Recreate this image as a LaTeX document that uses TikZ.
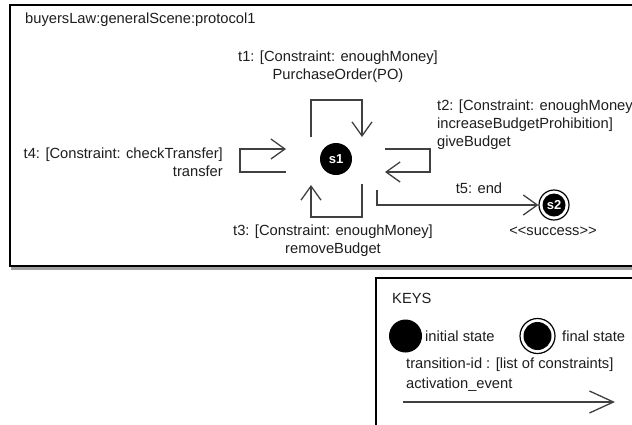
\documentclass[tikz,border=0pt]{standalone}
\usepackage{fontspec}
\setmainfont{Liberation Sans}
\usetikzlibrary{arrows.meta}
\definecolor{txt}{HTML}{1E1E1E}
\definecolor{lin}{HTML}{404040}
\begin{document}
\begin{tikzpicture}[x=1pt,y=-1pt,
  lbl/.style={inner sep=0pt, text=txt, font=\fontsize{14.7}{18}\selectfont},
  ln/.style={draw=lin, line width=1.3pt},
  arr/.style={ln, -{Straight Barb[length=14pt,width=20pt,line width=1.3pt]}},
  bigarr/.style={ln, -{Straight Barb[length=24pt,width=22pt,line width=1.3pt]}},
  statenode/.style={circle, fill=black, inner sep=0pt, text=white,
    font=\bfseries\fontsize{13}{13}\selectfont},
  ringnode/.style={circle, draw=black, line width=1.2pt, inner sep=0pt},
]
\useasboundingbox (0,0) rectangle (632,424);
\clip (0,0) rectangle (632,424);
\fill[white] (0,0) rectangle (632,424);

% frames
\draw[black, line width=1.2pt] (10,5) rectangle (650,266);
\draw[gray!75, line width=2.5pt] (11,268.5) -- (650,268.5);
\draw[black, line width=1.2pt] (376,278) rectangle (650,440);

% title
\node[lbl, anchor=base west] (title) at (25,23) {buyersLaw:generalScene:protocol1};

% states
\node[statenode, minimum size=32pt] (s1) at (336,159) {s1};
\node[ringnode, minimum size=30pt] (s2) at (554,205) {};
\node[statenode, minimum size=23pt] (s2in) at (s2.center) {s2};
\node[lbl, anchor=base] (succ) at (553,235) {<{}<success>{}>};

% transition loops
\coordinate (t1a) at (311,137); \coordinate (t1b) at (311,100);
\coordinate (t1c) at (362,100); \coordinate (t1d) at (362,137);
\draw[arr] (t1a) -- (t1b) -- (t1c) -- (t1d);

\coordinate (t3a) at (362,184); \coordinate (t3b) at (362,217);
\coordinate (t3c) at (311,217); \coordinate (t3d) at (311,185);
\draw[arr] (t3a) -- (t3b) -- (t3c) -- (t3d);

\coordinate (t4a) at (286,172); \coordinate (t4b) at (240,172);
\coordinate (t4c) at (240,149); \coordinate (t4d) at (286,149);
\draw[arr] (t4a) -- (t4b) -- (t4c) -- (t4d);

\coordinate (t2a) at (385,149); \coordinate (t2b) at (430,149);
\coordinate (t2c) at (430,172); \coordinate (t2d) at (385,172);
\draw[arr] (t2a) -- (t2b) -- (t2c) -- (t2d);

\coordinate (t5a) at (377,190);
\draw[arr] (t5a) |- (s2);

% transition labels (base anchor = last line's baseline)
\node[lbl, anchor=base, align=center] (l1) at (338,79)
  {t1: [Constraint: enoughMoney]\\PurchaseOrder(PO)};
\node[lbl, anchor=base west, align=left] (l2) at (437,146)
  {t2: [Constraint: enoughMoney,\\increaseBudgetProhibition]\\giveBudget};
\node[lbl, anchor=base east, align=right] (l4) at (223,176)
  {t4: [Constraint: checkTransfer]\\transfer};
\node[lbl, anchor=base, align=center] (l3) at (333,253)
  {t3: [Constraint: enoughMoney]\\removeBudget};
\node[lbl, anchor=base] (l5) at (479,193) {t5: end};

% keys
\node[lbl, anchor=base west] (keys) at (392,303) {KEYS};
\node[statenode, minimum size=33pt] (kinit) at (405.5,336) {};
\node[lbl, anchor=base west] (kinitl) at (425,341) {initial state};
\node[ringnode, minimum size=35pt] (kfin) at (537.5,336) {};
\node[statenode, minimum size=28pt] (kfinin) at (kfin.center) {};
\node[lbl, anchor=base west] (kfinl) at (562,341) {final state};
\node[lbl, anchor=base west, align=left] (ktr) at (406,388)
  {transition-id : [list of constraints]\\[1.5pt]activation\_event};
\coordinate (ka) at (403,402); \coordinate (kb) at (615,402);
\draw[bigarr] (ka) -- (kb);
\end{tikzpicture}
\end{document}
